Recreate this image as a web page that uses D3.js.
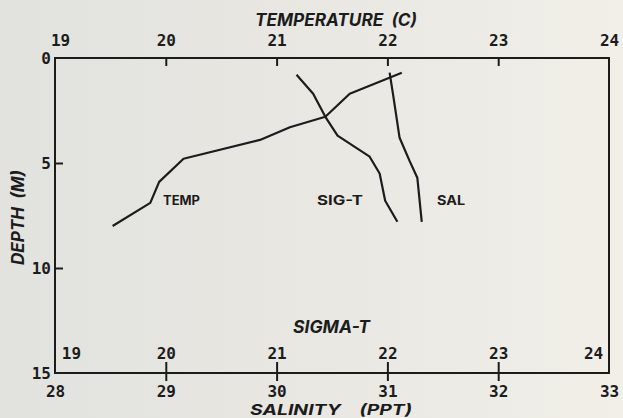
<!DOCTYPE html>
<html>
<head>
<meta charset="utf-8">
<script src="https://cdn.jsdelivr.net/npm/d3@7"></script>
<style>
  html, body { margin: 0; padding: 0; background: #e8e7e2; }
  svg { display: block; }
  text {
    font-family: Inter, "DejaVu Sans", sans-serif;
    font-weight: 700;
    fill: #1c1c1c;
  }
  .num {
    font-family: "DejaVu Sans Mono", monospace;
    font-variant-numeric: slashed-zero;
    font-feature-settings: "zero" 1;
  }
  .title { font-style: italic; white-space: pre; }
</style>
</head>
<body>
<svg id="chart" width="623" height="418"></svg>
<script>
// Station profile: temperature, sigma-t and salinity against depth
const tempDepth   = [0.7, 1.7, 2.8, 3.3, 3.9, 4.8, 5.9, 6.9, 8.0];
const tempValues  = [22.13, 21.66, 21.44, 21.12, 20.85, 20.16, 19.94, 19.86, 19.52];

const sigmaDepth  = [0.8, 1.7, 2.8, 3.7, 4.7, 5.5, 6.8, 7.8];
const sigmaValues = [21.18, 21.33, 21.44, 21.55, 21.84, 21.93, 21.98, 22.09];

const salDepth    = [0.7, 1.7, 3.8, 4.9, 5.7, 7.8];
const salValues   = [31.02, 31.05, 31.11, 31.20, 31.27, 31.31];

const tempTicks   = [19, 20, 21, 22, 23, 24];
const sigmaTicks  = [19, 20, 21, 22, 23, 24];
const salTicks    = [28, 29, 30, 31, 32, 33];
const depthTicks  = [0, 5, 10, 15];

const svg = d3.select("#chart");
const ink = "#1c1c1c";

// paper tint
const defs = svg.append("defs");
const grad = defs.append("linearGradient").attr("id", "paper")
  .attr("x1", 0).attr("x2", 1).attr("y1", 0).attr("y2", 0);
grad.append("stop").attr("offset", "0%").attr("stop-color", "#e2e2de");
grad.append("stop").attr("offset", "55%").attr("stop-color", "#e9e8e3");
grad.append("stop").attr("offset", "100%").attr("stop-color", "#f1efe8");
svg.append("rect").attr("width", 623).attr("height", 418).attr("fill", "url(#paper)");

const L = 55, R = 609, T = 58, B = 373;
const xTemp  = d3.scaleLinear().domain([19, 24]).range([L, R]);
const xSigma = d3.scaleLinear().domain([19, 24]).range([L, R]);
const xSal   = d3.scaleLinear().domain([28, 33]).range([L, R]);
const y      = d3.scaleLinear().domain([0, 15]).range([T, B]);

const fmt = d => String(d);

function styleAxis(g, ends) {
  g.attr("font-family", null).attr("font-size", null);
  g.select(".domain").remove();
  g.selectAll(".tick line").attr("stroke", ink).attr("stroke-width", 2);
  g.selectAll(".tick text").attr("class", "num").attr("fill", ink).attr("font-size", 16);
  g.selectAll(".tick").filter(d => ends.includes(d)).select("line").remove();
}

// top: temperature
const gTop = svg.append("g").attr("transform", `translate(0,${T})`)
  .call(d3.axisTop(xTemp).tickValues(tempTicks).tickSize(-8).tickPadding(12).tickFormat(fmt));
styleAxis(gTop, [19, 24]);
gTop.selectAll(".tick").filter(d => d === 19).select("text").attr("dx", 5);

// bottom, upper labels: sigma-t
const gSig = svg.append("g").attr("transform", `translate(0,${B})`)
  .call(d3.axisTop(xSigma).tickValues(sigmaTicks).tickSize(11).tickPadding(3).tickFormat(fmt));
styleAxis(gSig, [19, 24]);
gSig.selectAll(".tick").filter(d => d === 19).select("text").attr("dx", 16);
gSig.selectAll(".tick").filter(d => d === 24).select("text").attr("dx", -16);

// bottom, lower labels: salinity
const gSal = svg.append("g").attr("transform", `translate(0,${B})`)
  .call(d3.axisBottom(xSal).tickValues(salTicks).tickSize(8).tickPadding(5).tickFormat(fmt));
styleAxis(gSal, [28, 33]);

// left: depth
const gLeft = svg.append("g").attr("transform", `translate(${L},0)`)
  .call(d3.axisLeft(y).tickValues(depthTicks).tickSize(-8).tickPadding(4).tickFormat(fmt));
styleAxis(gLeft, [0, 15]);

// frame
svg.append("rect").attr("x", L).attr("y", T).attr("width", R - L).attr("height", B - T)
  .attr("fill", "none").attr("stroke", ink).attr("stroke-width", 2);

// profiles
const line = xs => d3.line().x(d => xs(d[0])).y(d => y(d[1]));
const curves = [
  { values: tempValues,  depths: tempDepth,  x: xTemp },
  { values: sigmaValues, depths: sigmaDepth, x: xSigma },
  { values: salValues,   depths: salDepth,   x: xSal }
];
curves.forEach(c => {
  svg.append("path")
    .datum(c.values.map((v, i) => [v, c.depths[i]]))
    .attr("d", line(c.x))
    .attr("fill", "none").attr("stroke", ink).attr("stroke-width", 2.2)
    .attr("stroke-linejoin", "round");
});

// curve labels
const curveLabels = [
  { text: "TEMP",  x: 163, y: 205, w: 37 },
  { text: "SIG-T", x: 317, y: 205, w: 46 },
  { text: "SAL",   x: 437, y: 205, w: 28 }
];
svg.selectAll(".clabel").data(curveLabels).join("text")
  .attr("class", "clabel")
  .attr("x", d => d.x).attr("y", d => d.y)
  .attr("font-size", 13)
  .attr("textLength", d => d.w).attr("lengthAdjust", "spacingAndGlyphs")
  .text(d => d.text);

// axis titles
svg.append("text").attr("class", "title")
  .attr("x", 255).attr("y", 26).attr("font-size", 17)
  .attr("textLength", 162).attr("lengthAdjust", "spacingAndGlyphs")
  .text("TEMPERATURE  (C)");

svg.append("text").attr("class", "title")
  .attr("x", 293).attr("y", 333).attr("font-size", 17)
  .attr("textLength", 77).attr("lengthAdjust", "spacingAndGlyphs")
  .text("SIGMA-T");

svg.append("text").attr("class", "title")
  .attr("x", 250).attr("y", 415).attr("font-size", 15)
  .attr("textLength", 162).attr("lengthAdjust", "spacingAndGlyphs")
  .text("SALINITY    (PPT)");

svg.append("text").attr("class", "title")
  .attr("transform", "translate(24,265) rotate(-90)")
  .attr("font-size", 17)
  .attr("textLength", 95).attr("lengthAdjust", "spacingAndGlyphs")
  .text("DEPTH  (M)");
</script>
</body>
</html>
